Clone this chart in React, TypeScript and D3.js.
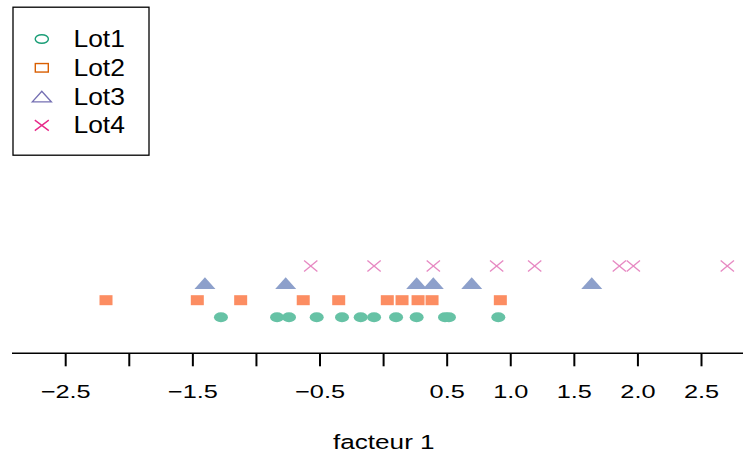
import React from "react";
import * as d3 from "d3";

const lots = ["Lot1", "Lot2", "Lot3", "Lot4"];
const lot1 = [-1.279, -0.838, -0.744, -0.526, -0.327, -0.18, -0.075, 0.098, 0.26, 0.483, 0.514, 0.902];
const lot2 = [-2.183, -1.465, -1.124, -0.632, -0.353, 0.029, 0.145, 0.271, 0.381, 0.918];
const lot3 = [-1.405, -0.77, 0.26, 0.391, 0.693, 1.637];
const lot4 = [-0.573, -0.075, 0.391, 0.889, 1.188, 1.854, 1.964, 2.703];
const tickValues = [-2.5, -2, -1.5, -1, -0.5, 0, 0.5, 1, 1.5, 2, 2.5];
const tickLabels = ["−2.5", "", "−1.5", "", "−0.5", "", "0.5", "1.0", "1.5", "2.0", "2.5"];
const pointColors = ["#66C2A5", "#FC8D62", "#8DA0CB", "#E78AC3"];
const legendColors = ["#1B9E77", "#D95F02", "#7570B3", "#E7298A"];
const xLabel = "facteur 1";

const W = 743;
const H = 453;
const FONT = "'Liberation Sans', Arial, Helvetica, sans-serif";

function Marker({ kind, x, y, color, open }: { kind: number; x: number; y: number; color: string; open?: boolean }) {
  const fill = open ? "none" : color;
  const stroke = open ? color : "none";
  const sw = open ? 1.4 : 0;
  if (kind === 0) {
    return <ellipse cx={x} cy={y} rx={open ? 6.6 : 7} ry={open ? 4.3 : 5} fill={fill} stroke={stroke} strokeWidth={sw} />;
  }
  if (kind === 1) {
    const w = 13, h = open ? 8.5 : 10;
    return <rect x={x - w / 2} y={y - h / 2} width={w} height={h} fill={fill} stroke={stroke} strokeWidth={sw} />;
  }
  if (kind === 2) {
    const w = open ? 19 : 21, h = open ? 10.5 : 11.7;
    const p = `M${x - w / 2},${y + h / 2}L${x},${y - h / 2}L${x + w / 2},${y + h / 2}Z`;
    return <path d={p} fill={fill} stroke={stroke} strokeWidth={sw} strokeLinejoin="miter" />;
  }
  const w = open ? 14 : 13.3, h = open ? 10.5 : 11;
  return (
    <path
      d={`M${x - w / 2},${y - h / 2}L${x + w / 2},${y + h / 2}M${x - w / 2},${y + h / 2}L${x + w / 2},${y - h / 2}`}
      stroke={color}
      strokeWidth={1.4}
      fill="none"
    />
  );
}

export default function App() {
  const x = d3.scaleLinear().domain([-2.5, 2.5]).range([65.7, 701.5]);
  const y = d3.scaleLinear().domain([1, 4]).range([317.3, 266]);
  const series = [lot1, lot2, lot3, lot4];
  const axisY = 353.3;

  return (
    <svg width={W} height={H} style={{ position: "absolute", left: 0, top: 0, display: "block", background: "#fff" }} fontFamily={FONT}>
      <rect x={0} y={0} width={W} height={H} fill="#fff" />
      {series.map((vals, si) =>
        vals.map((v, i) => <Marker key={`${si}-${i}`} kind={si} x={x(v)} y={y(si + 1)} color={pointColors[si]} />)
      )}
      <line x1={12} x2={W} y1={axisY} y2={axisY} stroke="#000" strokeWidth={1.6} />
      {tickValues.map((t, i) => (
        <g key={i}>
          <line x1={x(t)} x2={x(t)} y1={axisY} y2={axisY + 13} stroke="#000" strokeWidth={2} />
          {tickLabels[i] && (
            <text
              transform={`translate(${x(t)},398.3) scale(1.37,1)`}
              textAnchor="middle"
              fontSize={18.5}
              fill="#000"
            >
              {tickLabels[i]}
            </text>
          )}
        </g>
      ))}
      <text transform={`translate(383.8,449.3) scale(1.34,1)`} textAnchor="middle" fontSize={19.5} fill="#000">
        {xLabel}
      </text>
      <rect x={13} y={7.2} width={136} height={148} fill="#fff" stroke="#000" strokeWidth={1.3} />
      {lots.map((name, i) => {
        const cy = 39 + i * 28.8;
        return (
          <g key={name}>
            <Marker kind={i} x={41.8} y={cy} color={legendColors[i]} open />
            <text transform={`translate(73.5,${cy + 8}) scale(1.1,1)`} fontSize={24} fill="#000">
              {name}
            </text>
          </g>
        );
      })}
    </svg>
  );
}
